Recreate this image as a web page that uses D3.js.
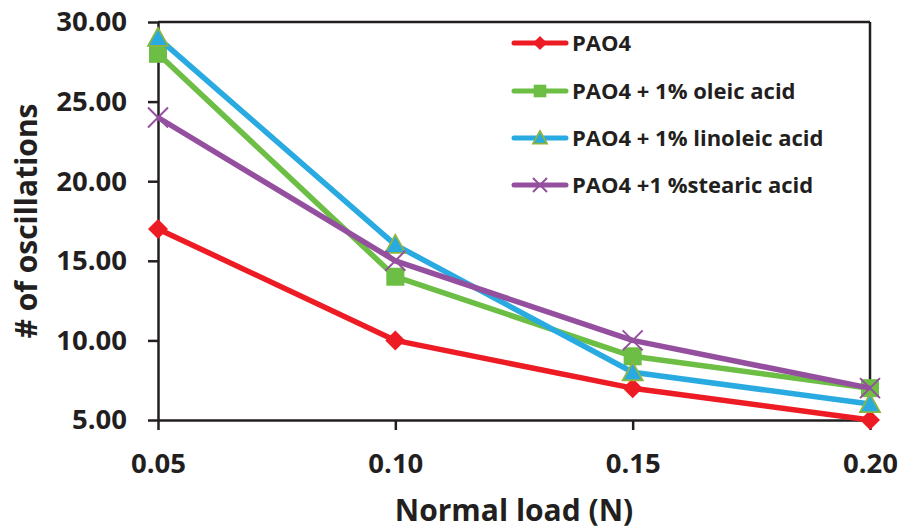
<!DOCTYPE html>
<html><head><meta charset="utf-8">
<script src="https://cdnjs.cloudflare.com/ajax/libs/d3/7.8.5/d3.min.js"></script>
<style>
html,body{margin:0;padding:0;background:#fff;}
svg{display:block;font-family:"Open Sans",sans-serif;font-weight:700;}
</style></head><body>
<svg id="c" width="901" height="530"></svg>
<script>
const loads = [0.05, 0.10, 0.15, 0.20];
const xTickLabels = ["0.05", "0.10", "0.15", "0.20"];
const yTicks = [5, 10, 15, 20, 25, 30];
const seriesNames = ["PAO4", "PAO4 + 1% oleic acid", "PAO4 + 1% linoleic acid", "PAO4 +1 %stearic acid"];
const pao4 = [17, 10, 7, 5];
const oleic = [28, 14, 9, 7];
const linoleic = [29, 16, 8, 6];
const stearic = [24, 15, 10, 7];
const colors = ["#ED1C24", "#6CBE45", "#29ABE2", "#94509F"];
const markers = ["diamond", "square", "triangle", "x"];

const svg = d3.select("#c");
const L = 158, R = 870, T = 22, B = 420;
const x = d3.scaleLinear().domain([0.05, 0.20]).range([L, R]);
const y = d3.scaleLinear().domain([5, 30]).range([B, T]);
const ink = "#231F20";

svg.append("line").attr("x1", L).attr("x2", R).attr("y1", T).attr("y2", T).attr("stroke", ink).attr("stroke-width", 2.5);
svg.append("line").attr("x1", R).attr("x2", R).attr("y1", T).attr("y2", B).attr("stroke", ink).attr("stroke-width", 2.5);

const yAxis = svg.append("g").attr("transform", `translate(${L},0)`)
  .call(d3.axisLeft(y).tickValues(yTicks).tickFormat(d3.format(".2f")).tickSize(10).tickSizeOuter(0).tickPadding(21));
const xAxis = svg.append("g").attr("transform", `translate(0,${B})`)
  .call(d3.axisBottom(x).tickValues(loads).tickFormat((d, i) => xTickLabels[i]).tickSize(10).tickSizeOuter(0).tickPadding(23));
[yAxis, xAxis].forEach(g => {
  g.selectAll("path,line").attr("stroke", ink).attr("stroke-width", 2.5);
  g.selectAll("text").attr("fill", ink).attr("font-size", 27.5).attr("font-family", "Open Sans").attr("font-weight", 700);
});

svg.append("text").attr("x", 514).attr("y", 521).attr("text-anchor", "middle")
  .attr("font-size", 30).attr("fill", ink).text("Normal load (N)");
svg.append("text").attr("transform", "translate(37,221) rotate(-90)").attr("text-anchor", "middle")
  .attr("font-size", 30).attr("fill", ink).text("# of oscillations");

const data = [pao4, oleic, linoleic, stearic];

function drawMarker(g, type, cx, cy, s, color) {
  if (type === "diamond") {
    g.append("path").attr("d", `M${cx},${cy - s}L${cx + s},${cy}L${cx},${cy + s}L${cx - s},${cy}Z`).attr("fill", color);
  } else if (type === "square") {
    g.append("rect").attr("x", cx - s * 0.9).attr("y", cy - s * 0.9).attr("width", s * 1.8).attr("height", s * 1.8).attr("fill", color);
  } else if (type === "triangle") {
    g.append("path").attr("d", `M${cx},${cy - s}L${cx + s},${cy + s * 0.8}L${cx - s},${cy + s * 0.8}Z`)
      .attr("fill", color).attr("stroke", "#8DB53E").attr("stroke-width", 1.8);
  } else {
    g.append("path").attr("d", `M${cx - s},${cy - s}L${cx + s},${cy + s}M${cx - s},${cy + s}L${cx + s},${cy - s}`)
      .attr("stroke", color).attr("stroke-width", 2).attr("fill", "none");
  }
}

const line = d3.line().x((d, i) => x(loads[i])).y(d => y(d));
data.forEach((vals, si) => {
  const g = svg.append("g");
  g.append("path").datum(vals).attr("d", line).attr("fill", "none")
    .attr("stroke", colors[si]).attr("stroke-width", 5.5).attr("stroke-linejoin", "round");
  vals.forEach((v, i) => drawMarker(g, markers[si], x(loads[i]), y(v), 10, colors[si]));
});

const legRows = [43, 91, 138, 185];
seriesNames.forEach((n, i) => {
  const g = svg.append("g");
  g.append("line").attr("x1", 514).attr("x2", 566).attr("y1", legRows[i]).attr("y2", legRows[i])
    .attr("stroke", colors[i]).attr("stroke-width", 5).attr("stroke-linecap", "round");
  drawMarker(g, markers[i], 540, legRows[i], 7, colors[i]);
  g.append("text").attr("x", 572).attr("y", legRows[i]).attr("dy", "0.36em")
    .attr("font-size", 22).attr("fill", ink).text(n);
});
</script>
</body></html>
